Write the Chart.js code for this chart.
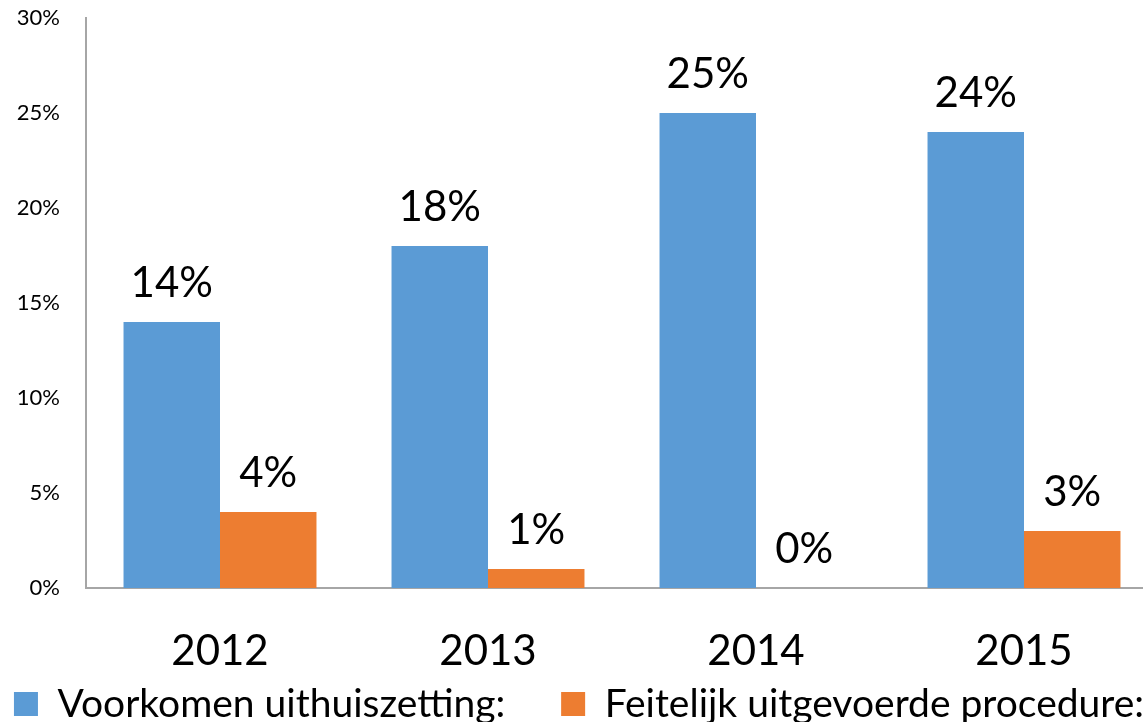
<!DOCTYPE html>
<html>
<head>
<meta charset="utf-8">
<script src="https://cdn.jsdelivr.net/npm/chart.js@4/dist/chart.umd.min.js"></script>
<style>
  html, body { margin: 0; padding: 0; background: #fff; overflow: hidden; }
  #wrap { width: 1160px; height: 722px; }
</style>
</head>
<body>
<div id="wrap"><canvas id="c" width="1160" height="722"></canvas></div>
<script>
const categories = ['2012', '2013', '2014', '2015'];
const seriesNames = ['Voorkomen uithuiszetting:', 'Feitelijk uitgevoerde procedure:'];
const voorkomen = [14, 18, 25, 24];
const feitelijk = [4, 1, 0, 3];
const yMin = 0, yMax = 30, yStep = 5;

const FONT = 'Lato, "Open Sans", sans-serif';
const LEGEND_SIZE = 39;
const LEGEND_GAP = 49; // extra space after the first legend entry

const dataLabels = {
  id: 'dataLabels',
  afterDatasetsDraw(chart) {
    const ctx = chart.ctx;
    ctx.save();
    ctx.font = '42px ' + FONT;
    ctx.fillStyle = '#000';
    ctx.textAlign = 'center';
    ctx.textBaseline = 'alphabetic';
    chart.data.datasets.forEach((ds, i) => {
      const meta = chart.getDatasetMeta(i);
      meta.data.forEach((bar, j) => {
        ctx.fillText(ds.data[j] + '%', bar.x, bar.y - 25);
      });
    });
    ctx.restore();
  }
};

new Chart(document.getElementById('c'), {
  type: 'bar',
  data: {
    labels: categories,
    datasets: [
      { label: seriesNames[0], data: voorkomen, backgroundColor: '#5B9BD5', borderWidth: 0 },
      { label: seriesNames[1], data: feitelijk, backgroundColor: '#ED7D31', borderWidth: 0 }
    ]
  },
  options: {
    responsive: false,
    animation: false,
    devicePixelRatio: 1,
    datasets: { bar: { categoryPercentage: 0.72, barPercentage: 1.0 } },
    layout: { padding: { top: 18, right: 2, left: 0, bottom: -11.5 } },
    plugins: {
      tooltip: { enabled: false },
      legend: {
        position: 'bottom',
        labels: {
          font: { family: FONT, size: LEGEND_SIZE },
          color: '#000',
          boxWidth: 24,
          boxHeight: 24,
          padding: 6,
          generateLabels(chart) {
            const items = Chart.defaults.plugins.legend.labels.generateLabels(chart);
            const ctx = chart.ctx;
            ctx.save();
            ctx.font = LEGEND_SIZE + 'px ' + FONT;
            const sw = ctx.measureText(' ').width || 8;
            ctx.restore();
            items.forEach((it, i) => {
              it.lineWidth = 0;
              if (i < items.length - 1) it.text += ' '.repeat(Math.round(LEGEND_GAP / sw));
            });
            return items;
          }
        }
      }
    },
    scales: {
      x: {
        afterFit(scale) { scale.height = 90.5; },
        grid: { display: false, drawTicks: false },
        border: { display: true, color: '#a6a6a6', width: 2 },
        ticks: { font: { family: FONT, size: 42 }, color: '#000', padding: 38 }
      },
      y: {
        min: yMin, max: yMax,
        afterFit(scale) { scale.width = 86; },
        grid: { display: false, drawTicks: true, tickLength: 22 },
        border: { display: true, color: '#a6a6a6', width: 2 },
        ticks: {
          stepSize: yStep,
          font: { family: FONT, size: 22 },
          color: '#000',
          padding: 4,
          callback: v => v + '%'
        }
      }
    }
  },
  plugins: [dataLabels]
});
</script>
</body>
</html>
